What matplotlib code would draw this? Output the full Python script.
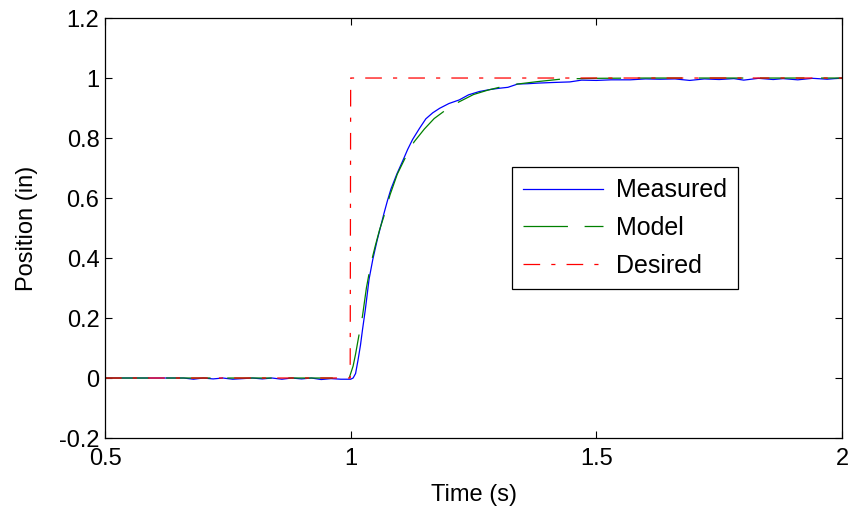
import matplotlib
matplotlib.use("Agg")
import matplotlib.pyplot as plt

t_meas = [0.50, 0.66, 0.68, 0.70, 0.72, 0.74, 0.76, 0.78, 0.80, 0.82, 0.84, 0.86,
          0.88, 0.90, 0.92, 0.94, 0.96, 0.98, 1.000, 1.005, 1.010, 1.015, 1.020,
          1.024, 1.030, 1.0375, 1.045, 1.054, 1.061, 1.068, 1.075, 1.082, 1.094,
          1.106, 1.116, 1.126, 1.140, 1.153, 1.167, 1.181, 1.200, 1.221, 1.240,
          1.262, 1.285, 1.303, 1.320, 1.340, 1.360, 1.380, 1.410, 1.446, 1.470,
          1.500, 1.530, 1.569, 1.600, 1.630, 1.660, 1.690, 1.720, 1.750, 1.780,
          1.800, 1.830, 1.860, 1.880, 1.910, 1.940, 1.970, 2.000]
y_meas = [0.000, 0.000, -0.004, 0.000, -0.003, 0.000, -0.004, -0.002, 0.000,
          -0.003, 0.000, -0.004, 0.000, -0.003, 0.000, -0.005, -0.002, -0.004,
          -0.004, 0.000, 0.015, 0.060, 0.110, 0.160, 0.230, 0.330, 0.395, 0.460,
          0.505, 0.550, 0.592, 0.630, 0.680, 0.724, 0.762, 0.795, 0.832, 0.864,
          0.884, 0.899, 0.915, 0.927, 0.944, 0.955, 0.962, 0.966, 0.969, 0.980,
          0.981, 0.983, 0.985, 0.987, 0.993, 0.992, 0.994, 0.994, 0.997, 0.996,
          0.997, 0.992, 0.997, 0.995, 0.998, 0.993, 0.999, 0.995, 0.998, 0.994,
          0.999, 0.996, 1.000]

# model response
t_model = [0.50, 0.997, 1.005, 1.010, 1.017, 1.024, 1.032, 1.041, 1.050, 1.059,
           1.068, 1.080, 1.095, 1.112, 1.129, 1.150, 1.170, 1.194, 1.220, 1.250,
           1.280, 1.310, 1.340, 1.380, 1.432, 1.500, 1.600, 1.800, 2.000]
y_model = [0.000, 0.000, 0.040, 0.080, 0.144, 0.206, 0.300, 0.380, 0.440, 0.495,
           0.541, 0.610, 0.680, 0.737, 0.787, 0.830, 0.865, 0.894, 0.920, 0.945,
           0.960, 0.972, 0.980, 0.988, 0.997, 0.999, 1.000, 1.000, 1.000]

# desired step
t_des = [0.50, 0.999, 1.000, 2.000]
y_des = [0.0, 0.0, 1.0, 1.0]


def main():
    plt.rcParams["font.family"] = ["Liberation Sans", "DejaVu Sans"]
    plt.rcParams["lines.scale_dashes"] = False

    fig = plt.figure(figsize=(8.53, 5.12), dpi=100)
    ax = fig.add_axes([0.1231, 0.1445, 0.864, 0.8203])

    ax.plot(t_meas, y_meas, color="#0000ff", lw=0.9, label="Measured")
    ax.plot(t_model, y_model, color="#008000", lw=0.9, dashes=(32, 12),
            label="Model")
    ax.plot(t_des, y_des, color="#ff0000", lw=0.9, dashes=(12, 8, 3, 8),
            label="Desired")

    ax.set_xlim(0.5, 2)
    ax.set_ylim(-0.2, 1.2)
    ax.set_xticks([0.5, 1, 1.5, 2])
    ax.set_xticklabels(["0.5", "1", "1.5", "2"])
    ax.set_yticks([-0.2, 0, 0.2, 0.4, 0.6, 0.8, 1, 1.2])
    ax.set_yticklabels(["-0.2", "0", "0.2", "0.4", "0.6", "0.8", "1", "1.2"])
    ax.tick_params(direction="in", top=True, right=True, labelsize=17,
                   length=5, width=0.8)
    ax.tick_params(axis="x", pad=7)
    ax.tick_params(axis="y", pad=4)
    for s in ax.spines.values():
        s.set_linewidth(0.9)

    ax.set_xlabel("Time (s)", fontsize=17, labelpad=10)
    ax.set_ylabel("Position (in)", fontsize=17, labelpad=15)

    leg = ax.legend(loc="upper left", bbox_to_anchor=(0.552, 0.645),
                    borderaxespad=0,
                    fontsize=18, handlelength=3.2, handletextpad=0.5,
                    labelspacing=0.55, borderpad=0.45, fancybox=False,
                    framealpha=1, edgecolor="black")
    leg.get_frame().set_linewidth(0.9)

    plt.savefig("out.png", dpi=100)


if __name__ == "__main__":
    main()
